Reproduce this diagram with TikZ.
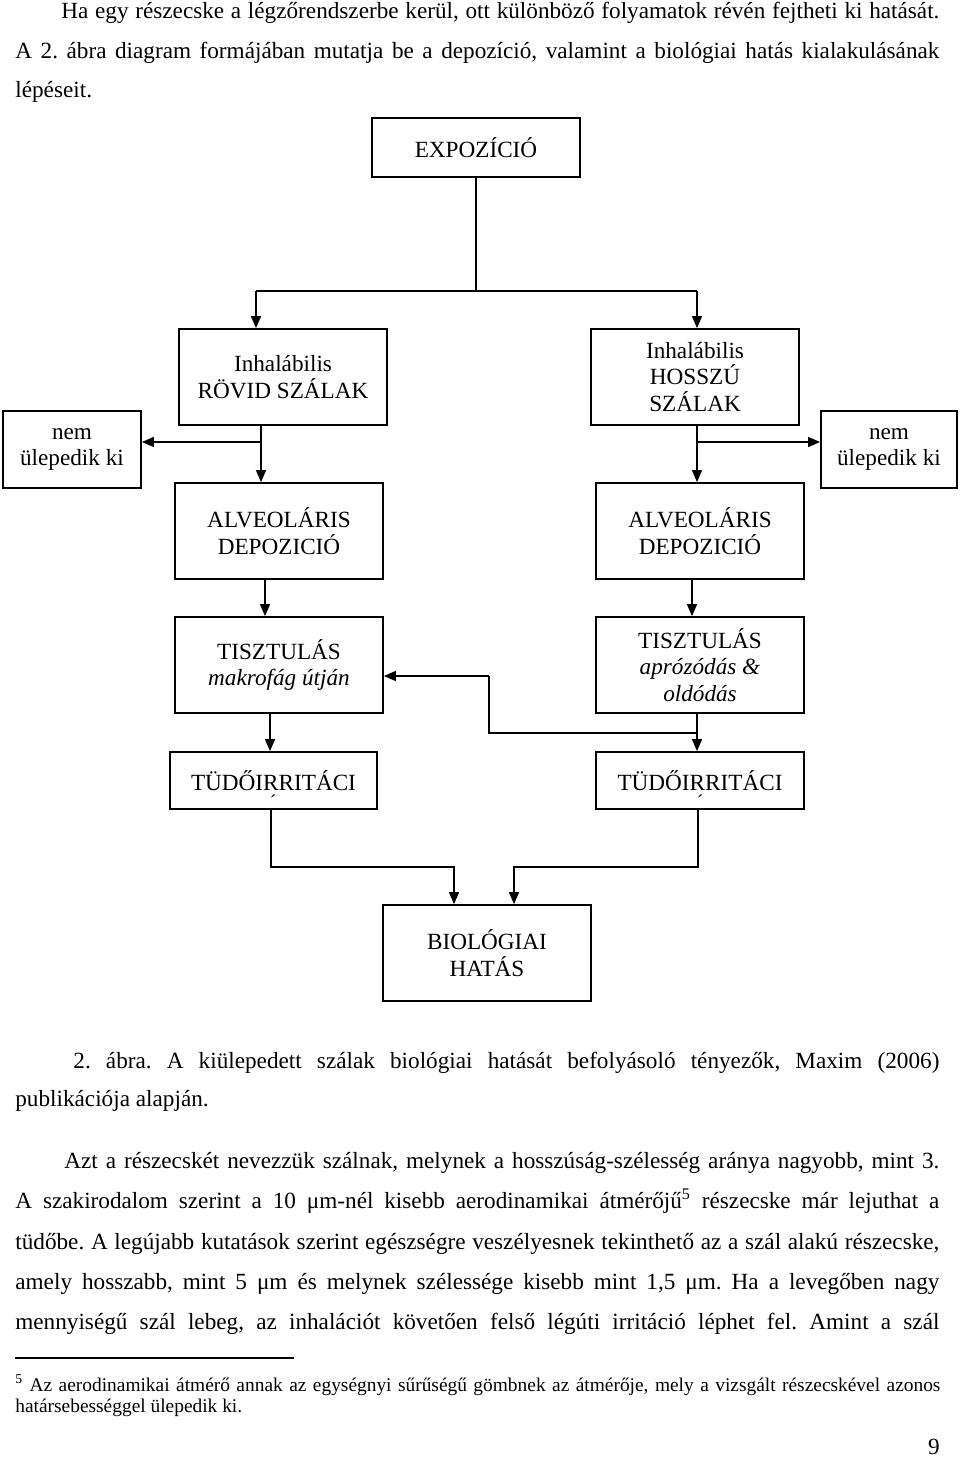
\documentclass[tikz,border=0pt]{standalone}
\usepackage{fontspec}
\setmainfont{Liberation Serif}
\usetikzlibrary{arrows.meta}
\frenchspacing
\newcommand\myBody{\fontsize{11.6}{13.4}\selectfont}
\newcommand\myFoot{\fontsize{9.7}{11}\selectfont}
\newcommand\jline[2]{\makebox[#1][s]{#2}}
\begin{document}
\begin{tikzpicture}[x=0.5pt,y=-0.5pt,
  box/.style={draw,line width=0.9pt,minimum width=104pt,minimum height=48pt,align=center,inner sep=0pt,font=\myBody},
  conn/.style={line width=0.75pt},
  arr/.style={conn,-{Triangle[length=6pt,width=5pt]}},
  txt/.style={anchor=base west,inner sep=0pt,font=\myBody},
  ftxt/.style={anchor=base west,inner sep=0pt,font=\myFoot},
]
\useasboundingbox (0,0) rectangle (960,1457);

% ---- text above
\node[txt] (p1) at (61,18) {\jline{439pt}{Ha egy részecske a légzőrendszerbe kerül, ott különböző folyamatok révén fejtheti ki hatását.}};
\node[txt] (p2) at (15,58) {\jline{462pt}{A 2. ábra diagram formájában mutatja be a depozíció, valamint a biológiai hatás kialakulásának}};
\node[txt] (p3) at (15,97) {lépéseit.};

% ---- boxes
\node[box,minimum height=29.5pt] (expo) at (476,147.5) {EXPOZÍCIÓ};
\node[box] (rovid) at (283,377) {Inhalábilis\\RÖVID SZÁLAK};
\node[box] (hosszu) at (695,377) {Inhalábilis\\HOSSZÚ\\SZÁLAK};
\node[box,minimum width=69pt,minimum height=38.5pt] (nemL) at (72,449.5) {nem\\ülepedik ki};
\node[box,minimum width=68pt,minimum height=38.5pt] (nemR) at (889,449.5) {nem\\ülepedik ki};
\node[box] (alvL) at (279,531) {ALVEOLÁRIS\\DEPOZICIÓ};
\node[box] (alvR) at (700,531) {ALVEOLÁRIS\\DEPOZICIÓ};
\node[box] (tiszL) at (279,665) {TISZTULÁS\\\textit{makrofág útján}};
\node[box] (tiszR) at (700,665) {TISZTULÁS\\\textit{aprózódás \&}\\\textit{oldódás}};
\node[box,minimum width=103.5pt,minimum height=28.5pt] (tudoL) at (273.5,780.5) {\raisebox{0pt}[\height][0pt]{TÜDŐIRRITÁCI}};
\node[box,minimum height=28.5pt] (tudoR) at (700,780.5) {\raisebox{0pt}[\height][0pt]{TÜDŐIRRITÁCI}};
\node[inner sep=0pt,font=\myFoot] (accL) at (273,802) {´};
\node[inner sep=0pt,font=\myFoot] (accR) at (700,802) {´};
\node[box] (bio) at (487,953) {BIOLÓGIAI\\HATÁS};

% ---- connectors
\coordinate (jL) at (256,291);
\coordinate (jR) at (697,291);
\draw[conn] (expo.south) -- (expo.south |- jL);
\draw[conn] (jL) -- (jR);
\draw[arr] (jL) -- (jL |- rovid.north);
\draw[arr] (jR) -- (jR |- hosszu.north);

\coordinate (vL) at (261,442);
\coordinate (vR) at (697,442);
\draw[arr] (vL |- rovid.south) -- (vL |- alvL.north);
\draw[arr] (vL) -- (vL -| nemL.east);
\draw[arr] (vR |- hosszu.south) -- (vR |- alvR.north);
\draw[arr] (vR) -- (vR -| nemR.west);

\coordinate (aL) at (265,600);
\coordinate (aR) at (692,600);
\draw[arr] (aL |- alvL.south) -- (aL |- tiszL.north);
\draw[arr] (aR |- alvR.south) -- (aR |- tiszR.north);

\coordinate (tL) at (270,735);
\coordinate (b1) at (697,733);
\coordinate (b2) at (489,733);
\coordinate (b3) at (489,676);
\draw[arr] (tL |- tiszL.south) -- (tL |- tudoL.north);
\draw[arr] (b1 |- tiszR.south) -- (b1 |- tudoR.north);
\draw[conn] (b1) -- (b2) -- (b3);
\draw[arr] (b3) -- (b3 -| tiszL.east);

\coordinate (c1) at (271,867);
\coordinate (c2) at (454,867);
\coordinate (d1) at (698,867);
\coordinate (d2) at (514,867);
\draw[arr] (c1 |- tudoL.south) -- (c1) -- (c2) -- (c2 |- bio.north);
\draw[arr] (d1 |- tudoR.south) -- (d1) -- (d2) -- (d2 |- bio.north);

% ---- caption and text below
\node[txt] (cap1) at (73,1068) {\jline{433pt}{2. ábra. A kiülepedett szálak biológiai hatását befolyásoló tényezők, Maxim (2006)}};
\node[txt] (cap2) at (15,1106) {publikációja alapján.};

\node[txt] (q1) at (64,1168) {\jline{437.5pt}{Azt a részecskét nevezzük szálnak, melynek a hosszúság-szélesség aránya nagyobb, mint 3.}};
\node[txt] (q2) at (15,1208.5) {\jline{462pt}{A szakirodalom szerint a 10 μm-nél kisebb aerodinamikai átmérőjű\textsuperscript{5} részecske már lejuthat a}};
\node[txt] (q3) at (15,1249) {\jline{462pt}{tüdőbe. A legújabb kutatások szerint egészségre veszélyesnek tekinthető az a szál alakú részecske,}};
\node[txt] (q4) at (15,1289.5) {\jline{462pt}{amely hosszabb, mint 5 μm és melynek szélessége kisebb mint 1,5 μm. Ha a levegőben nagy}};
\node[txt] (q5) at (15,1329) {\jline{462pt}{mennyiségű szál lebeg, az inhalációt követően felső légúti irritáció léphet fel. Amint a szál}};

\coordinate (fnA) at (15,1358);
\coordinate (fnB) at (294,1358);
\draw[line width=0.6pt] (fnA) -- (fnB);
\node[ftxt] (f1) at (15,1391) {\jline{462.5pt}{\textsuperscript{5} Az aerodinamikai átmérő annak az egységnyi sűrűségű gömbnek az átmérője, mely a vizsgált részecskével azonos}};
\node[ftxt] (f2) at (15,1412) {határsebességgel ülepedik ki.};

\node[anchor=base east,inner sep=0pt,font=\myBody] (pg) at (940,1454) {9};
\end{tikzpicture}
\end{document}
